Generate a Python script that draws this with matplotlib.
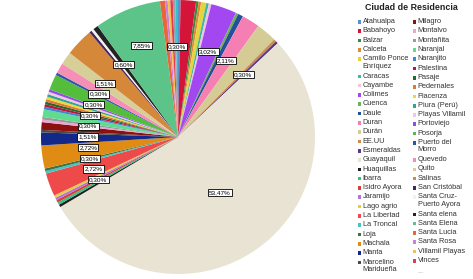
import matplotlib
matplotlib.use("Agg")
import matplotlib.pyplot as plt
import numpy as np
from matplotlib.patches import Rectangle

plt.rcParams['font.family'] = ['Liberation Sans', 'DejaVu Sans']

# ---------------- data ----------------
ciudades = [
    "Atahualpa", "Babahoyo", "Balzar", "Calceta", "Camilo Ponce\nEnríquez",
    "Caracas", "Cayambe", "Colimes", "Cuenca", "Daule", "Duran", "Durán",
    "EE.UU", "Esmeraldas", "Guayaquil", "Huaquillas", "Ibarra", "Isidro Ayora",
    "Jaramijo", "Lago agrio", "La Libertad", "La Troncal", "Loja", "Machala",
    "Manta", "Marcelino\nMaridueña", "Milagro", "Montalvo", "Montañita",
    "Naranjal", "Naranjito", "Palestina", "Pasaje", "Pedernales", "Piacenza",
    "Piura (Perú)", "Playas Villamil", "Portoviejo", "Posorja",
    "Puerto del\nMorro", "Quevedo", "Quito", "Salinas", "San Cristóbal",
    "Santa Cruz-\nPuerto Ayora", "Santa elena", "Santa Elena", "Santa Lucia",
    "Santa Rosa", "Villamil Playas", "Vinces", "Otra 1", "Otra 2",
]
conteos = [
    1, 6, 1, 1, 2,
    1, 1, 10, 1, 2, 7, 8,
    1, 1, 177, 1, 1, 1,
    1, 1, 9, 1, 1, 9,
    5, 1, 3, 1, 1,
    3, 1, 1, 1, 1, 1,
    1, 1, 1, 6,
    1, 4, 5, 11, 1,
    1, 2, 26, 2,
    1, 1, 1, 1, 1,
]
colores = [
    "#5b8fc9", "#d5143a", "#3d8a3d", "#d98a3c", "#e6d43c",
    "#3cb8a5", "#f2c4dc", "#a348f0", "#6fae5a", "#24509a", "#f57fb2", "#d4cb95",
    "#d08a4c", "#5e3a82", "#e8e3d2", "#1f1f1f", "#3dbd7e", "#d0403c",
    "#b873d6", "#e2cf45", "#ee4a4a", "#45c4c4", "#3d7345", "#e08c14",
    "#14288a", "#4a4a4a", "#8c1010", "#eaa6d6", "#9a9a9a",
    "#5fdc8f", "#3f86d4", "#c4103e", "#226b2a", "#e27838", "#ecd838",
    "#2fa596", "#f3c6e4", "#8f4fe6", "#55bd3c",
    "#2a56a8", "#f58fb5", "#d7cf98", "#d6883a", "#45265f",
    "#f4f2ea", "#232323", "#5cc489", "#e5683a",
    "#cf7ee0", "#f2c24a", "#e23c50", "#9aa0aa", "#33c0cf",
]
con_etiqueta = [
    "Otra 2", "Colimes", "Duran", "Esmeraldas", "Guayaquil",
    "Lago agrio", "La Libertad", "Loja", "Machala", "Manta",
    "Montañita", "Pedernales", "Portoviejo", "Puerto del\nMorro",
    "Quito", "Santa elena", "Santa Elena",
]
n_leyenda = 51
titulo = "Ciudad de Residencia"

# ---------------- figure ----------------
W, H = 473, 279
fig = plt.figure(figsize=(W / 100, H / 100), dpi=100)
cx, cy, R = 178, 137, 137
ax = fig.add_axes([(cx - R) / W, (H - cy - R) / H, 2 * R / W, 2 * R / H])
wedges, _ = ax.pie(conteos, colors=colores, startangle=90, counterclock=False,
                   radius=1, wedgeprops=dict(linewidth=0))
ax.set_xlim(-1, 1)
ax.set_ylim(-1, 1)
ax.set_aspect('equal')
ax.axis('off')

total = sum(conteos)
izq, der = [], []
for nombre in con_etiqueta:
    i = ciudades.index(nombre)
    w = wedges[i]
    frac = conteos[i] / total
    mid = np.deg2rad((w.theta1 + w.theta2) / 2)
    r = 0.51 if frac > 0.5 else (0.72 if frac > 0.05 else 0.66)
    x, y = r * np.cos(mid), r * np.sin(mid)
    txt = f"{100 * frac:.2f}%".replace('.', ',')
    item = [y, x, r, txt]
    (izq if x < -0.3 and frac < 0.05 else der).append(item)

# spread left-side labels vertically to avoid overlap
izq.sort(key=lambda it: -it[0])
gap = 0.078
for _ in range(300):
    moved = False
    for k in range(len(izq) - 1):
        d = izq[k][0] - izq[k + 1][0]
        if d < gap:
            s = (gap - d) / 2
            izq[k][0] += s
            izq[k + 1][0] -= s
            moved = True
    if not moved:
        break
for it in izq:
    y, r = it[0], it[2]
    it[1] = -np.sqrt(max(r * r - y * y, 0))

for y, x, r, txt in izq + der:
    ax.text(x, y, txt, ha='center', va='center', fontsize=4.6, color='black',
            bbox=dict(boxstyle='square,pad=0.18', fc='white', ec='black', lw=0.6))

# ---------------- legend (manual) ----------------
def fx(px):
    return px / W

def fy(py):
    return 1 - py / H

fig.text(fx(411), fy(8), titulo, ha='center', va='center', fontsize=6.4,
         fontweight='bold', color='#222222')

step, extra = 9.3, 7.8
cols = [ciudades[:26], ciudades[26:n_leyenda] + ["..."]]
col_cols = [colores[:26], colores[26:n_leyenda] + [None]]
xm = [357.8, 412.8]
for c in range(2):
    y = 22.0
    for nombre, col in zip(cols[c], col_cols[c]):
        nl = nombre.count("\n")
        if col is not None:
            fig.patches.append(Rectangle((fx(xm[c]), fy(y + 1.8)), 3.6 / W, 3.6 / H,
                                         transform=fig.transFigure, fc=col, ec='none'))
            fig.text(fx(xm[c] + 4.8), fy(y - 3.8), nombre, ha='left', va='top',
                     fontsize=5.3, color='#333333', linespacing=1.08)
        else:
            fig.text(fx(xm[c] + 4.8), fy(y + 1), nombre, ha='left', va='center',
                     fontsize=5.3, color='#999999')
        y += step + nl * extra

fig.savefig("out.png", dpi=100)
